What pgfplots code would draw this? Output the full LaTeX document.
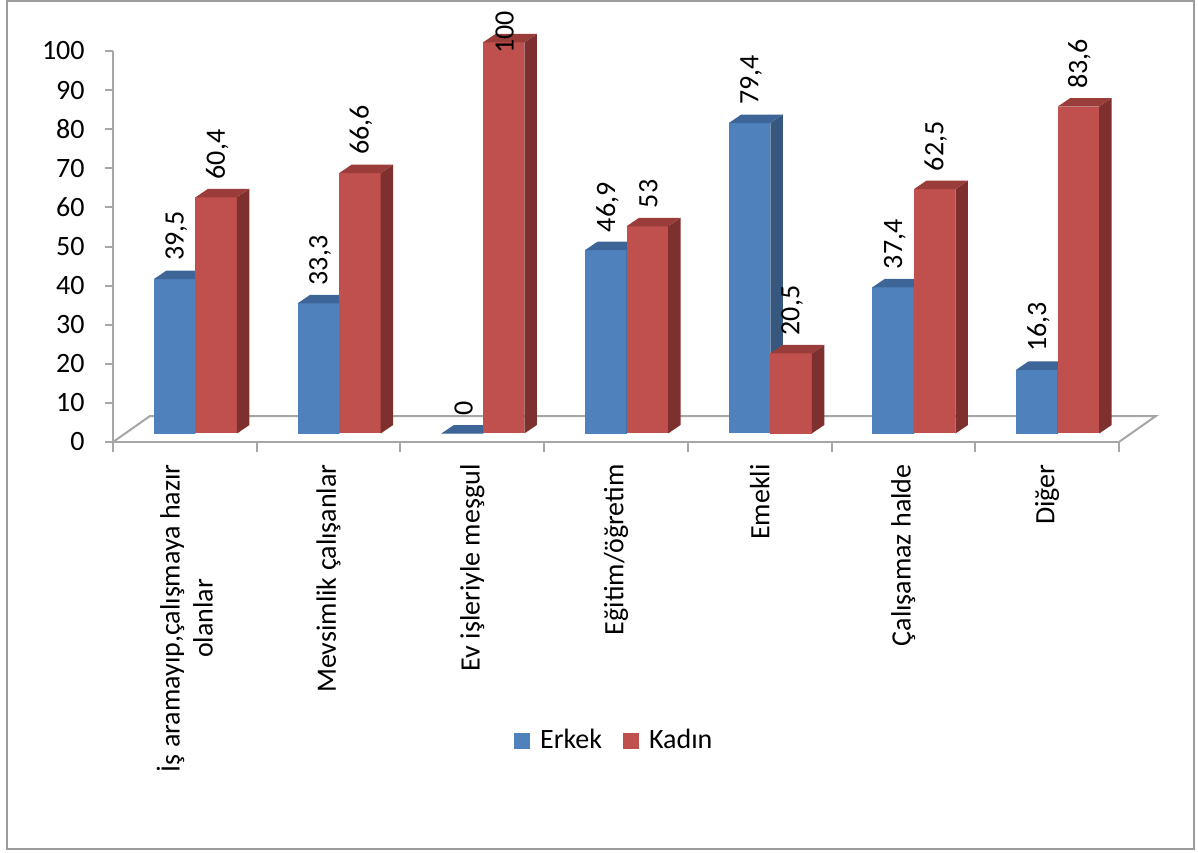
\documentclass[border=0pt]{standalone}
\usepackage{pgfplots}
\pgfplotsset{compat=1.18}
\usepackage{pgfplotstable}
\usepackage{fontspec}
\setmainfont{Carlito}

\definecolor{erkekF}{HTML}{4F81BD}
\definecolor{erkekT}{HTML}{3D6597}
\definecolor{erkekS}{HTML}{36587F}
\definecolor{kadinF}{HTML}{C0504D}
\definecolor{kadinT}{HTML}{9A3D3A}
\definecolor{kadinS}{HTML}{7D302E}
\definecolor{axgray}{HTML}{A6A6A6}
\definecolor{framegray}{HTML}{9C9C9C}

\newcommand\chartfont{\fontsize{14}{16.5}\selectfont}

\pgfplotstableread{
k v
0 39.5
1 33.3
2 0
3 46.9
4 79.4
5 37.4
6 16.3
}\erkek
\pgfplotstableread{
k v
0 60.4
1 66.6
2 100
3 53
4 20.5
5 62.5
6 83.6
}\kadin

% geometry of the 3D columns (pt); meta 0..100 is mapped to 0..1000
\newdimen\metaunit \metaunit=0.1955pt
\newdimen\barh
\newdimen\colL \newdimen\colR \newdimen\colT \newdimen\colB
\pgfdeclareplotmark{none3d}{}

% one column; the current point is the data point (k, v)
% #1 horizontal offset, #2 front, #3 top, #4 side colour
\newcommand\drawcolumn[4]{%
  \pgfscope
  \barh=\pgfplotspointmetatransformed\metaunit
  \colL=\dimexpr#1-10.375pt\relax
  \colR=\dimexpr#1+10.375pt\relax
  \colT=4.25pt
  \colB=\dimexpr\colT-\barh\relax
  % front face
  \pgfpathrectanglecorners{\pgfqpoint{\colL}{\colB}}{\pgfqpoint{\colR}{\colT}}%
  \pgfsetfillcolor{#2}\pgfusepath{fill}%
  % side face
  \pgfpathmoveto{\pgfqpoint{\colR}{\colB}}%
  \pgfpathlineto{\pgfqpoint{\dimexpr\colR+6.25pt\relax}{\dimexpr\colB+4.25pt\relax}}%
  \pgfpathlineto{\pgfqpoint{\dimexpr\colR+6.25pt\relax}{\dimexpr\colT+4.25pt\relax}}%
  \pgfpathlineto{\pgfqpoint{\colR}{\colT}}%
  \pgfpathclose
  \pgfsetfillcolor{#4}\pgfusepath{fill}%
  % top face
  \pgfpathmoveto{\pgfqpoint{\colL}{\colT}}%
  \pgfpathlineto{\pgfqpoint{\dimexpr\colL+6.25pt\relax}{\dimexpr\colT+4.25pt\relax}}%
  \pgfpathlineto{\pgfqpoint{\dimexpr\colR+6.25pt\relax}{\dimexpr\colT+4.25pt\relax}}%
  \pgfpathlineto{\pgfqpoint{\colR}{\colT}}%
  \pgfpathclose
  \pgfsetfillcolor{#3}\pgfusepath{fill}%
  \endpgfscope
}

% value label; a full-height column gets its label pulled down inside the frame
\newcommand\valuelabel{%
  \chartfont
  \ifdim\pgfplotspointmetatransformed pt>990pt\hspace*{-14.5pt}\fi
  \pgfmathprintnumber{\pgfplotspointmeta}}

\begin{document}
\begin{tikzpicture}
\useasboundingbox (0,0) rectangle (599pt,426pt);
\draw[framegray, line width=1pt] (3.5pt,1.5pt) rectangle (597pt,425.5pt);
\begin{axis}[
  at={(56.5pt,205pt)}, anchor=south west,
  x=71.85pt, y=1.955pt,
  xmin=-0.5, xmax=6.5, ymin=0, ymax=100,
  clip=false,
  axis lines*=left,
  axis line style={axgray, line width=1pt},
  tick style={axgray, line width=1pt},
  tick align=outside,
  major tick length=4pt,
  minor tick length=5pt,
  ytick={0,10,...,100},
  xtick={0,...,6},
  minor xtick={-0.5,0.5,...,6.5},
  major x tick style={draw=none},
  xticklabels={{İş aramayıp,çalışmaya hazır\\olanlar},{Mevsimlik çalışanlar},{Ev işleriyle meşgul},{Eğitim/öğretim},{Emekli},{Çalışamaz halde},{Diğer}},
  xticklabel style={font=\chartfont, yshift=-7pt, rotate=90, anchor=east, align=center, inner sep=0pt},
  yticklabel={\chartfont\pgfmathprintnumber{\tick}},
  yticklabel style={font=\chartfont, xshift=-10pt, anchor=east, inner sep=0pt},
  /pgf/number format/use comma,
  /pgf/number format/1000 sep={},
  /pgf/number format/assume math mode=true,
  legend style={at={(0.392,-0.764)}, anchor=west, draw=none, fill=none,
    font=\chartfont, legend columns=-1,
    /tikz/every even column/.append style={column sep=8.3pt}},
  every node near coord/.append style={font=\chartfont, inner sep=0pt, color=black},
]
% floor of the chart
\draw[axgray, line width=1pt] (axis cs:-0.5,0) -- ++(18.5pt,13pt)
  -- ([shift={(18.5pt,13pt)}]axis cs:6.5,0) -- (axis cs:6.5,0);

\addplot[scatter, only marks, mark=none3d,
  point meta=y, point meta min=0, point meta max=100,
  scatter/@pre marker code/.code={\drawcolumn{-5.075pt}{erkekF}{erkekT}{erkekS}},
  scatter/@post marker code/.code={},
  nodes near coords*={\valuelabel},
  every node near coord/.append style={xshift=-4.3pt, yshift=13.1pt, rotate=90, anchor=west},
  legend image code/.code={\fill[erkekF] (0pt,-3.75pt) rectangle (7.5pt,3.75pt);
    \path[draw=none, fill=none] (0pt,0pt) rectangle (11pt,0.1pt);},
] table[x=k, y=v] {\erkek};
\addlegendentry{Erkek}

\addplot[scatter, only marks, mark=none3d,
  point meta=y, point meta min=0, point meta max=100,
  scatter/@pre marker code/.code={\drawcolumn{15.675pt}{kadinF}{kadinT}{kadinS}},
  scatter/@post marker code/.code={},
  nodes near coords*={\valuelabel},
  every node near coord/.append style={xshift=16.2pt, yshift=13.1pt, rotate=90, anchor=west},
  legend image code/.code={\fill[kadinF] (0pt,-3.75pt) rectangle (7.5pt,3.75pt);
    \path[draw=none, fill=none] (0pt,0pt) rectangle (11pt,0.1pt);},
] table[x=k, y=v] {\kadin};
\addlegendentry{Kadın}
\end{axis}
\end{tikzpicture}
\end{document}
